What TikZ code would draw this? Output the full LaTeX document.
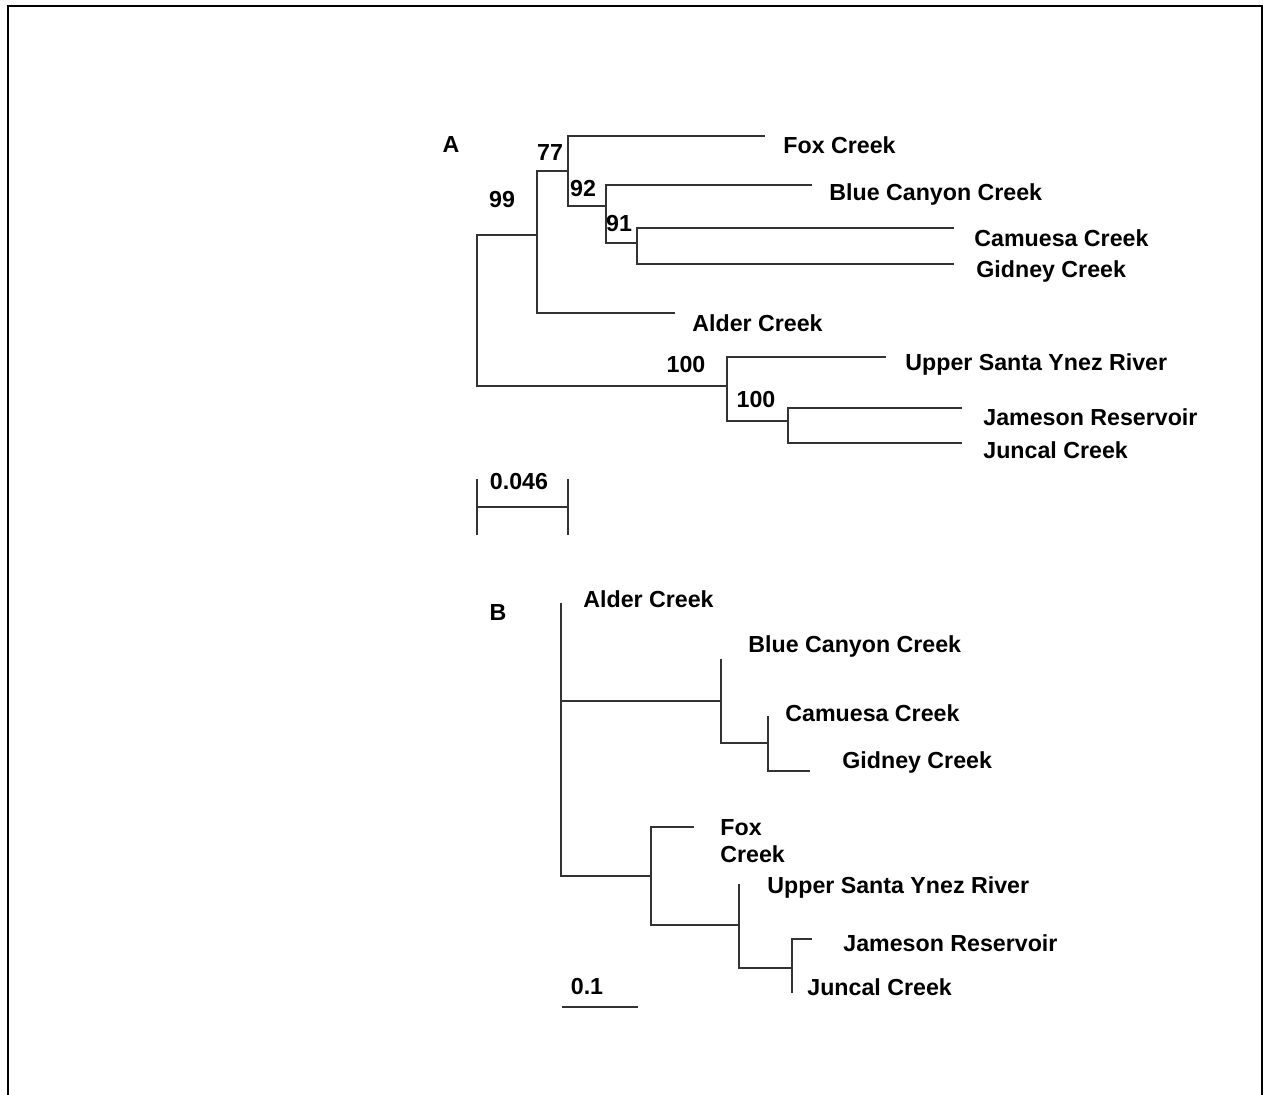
\documentclass[tikz,border=0pt]{standalone}
\usepackage{fontspec}
\setmainfont{Liberation Sans}
\begin{document}
\begin{tikzpicture}[x=0.5pt,y=-0.5pt,
  lbl/.style={anchor=west,inner sep=0pt,font=\fontsize{11.6pt}{13.5pt}\selectfont\bfseries},
  num/.style={inner sep=0pt,font=\fontsize{11.6pt}{13.5pt}\selectfont\bfseries},
  br/.style={line width=1pt,draw=black!80},
  frame/.style={line width=1.4pt}]
\useasboundingbox (0,0) rectangle (1264,1095);
% frame
\draw[frame] (8,1095) -- (8,6) -- (1262,6) -- (1262,1095);

% ---------- Tree A ----------
\node[num] (labA) at (451,145) {A};
\coordinate (Ar) at (477,310);
\coordinate (A1) at (537,235);
\coordinate (A2) at (568,171);
\coordinate (A3) at (606,206);
\coordinate (A4) at (637,243);
\coordinate (A5) at (727,386);
\coordinate (A6) at (788,421);
\coordinate (tFoxA) at (765,136);
\coordinate (tBlueA) at (812,185);
\coordinate (tCamA) at (954,228);
\coordinate (tGidA) at (954,264);
\coordinate (tAldA) at (675,313);
\coordinate (tUppA) at (886,357);
\coordinate (tJamA) at (962,408);
\coordinate (tJunA) at (962,443);
\draw[br] (Ar) |- (A1);
\draw[br] (Ar) |- (A5);
\draw[br] (A1) |- (A2);
\draw[br] (A1) |- (tAldA);
\draw[br] (A2) |- (tFoxA);
\draw[br] (A2) |- (A3);
\draw[br] (A3) |- (tBlueA);
\draw[br] (A3) |- (A4);
\draw[br] (A4) |- (tCamA);
\draw[br] (A4) |- (tGidA);
\draw[br] (A5) |- (tUppA);
\draw[br] (A5) |- (A6);
\draw[br] (A6) |- (tJamA);
\draw[br] (A6) |- (tJunA);
\node[lbl] (lFoxA) at (783,145) {Fox Creek};
\node[lbl] (lBlueA) at (829,195) {Blue Canyon Creek};
\node[lbl] (lCamA) at (974,238) {Camuesa Creek};
\node[lbl] (lGidA) at (976,272) {Gidney Creek};
\node[lbl] (lAldA) at (692,323) {Alder Creek};
\node[lbl] (lUppA) at (905,365) {Upper Santa Ynez River};
\node[lbl] (lJamA) at (983,417) {Jameson Reservoir};
\node[lbl] (lJunA) at (983,450) {Juncal Creek};
\node[num] (b77) at (550,153) {77};
\node[num] (b99) at (502,200) {99};
\node[num] (b92) at (583,189) {92};
\node[num] (b91) at (619,224) {91};
\node[num] (b100a) at (686,365) {100};
\node[num] (b100b) at (756,400) {100};
% scale A
\node[num] (sA) at (519,482) {0.046};
\coordinate (sA1) at (477,507);
\coordinate (sA2) at (568,507);
\draw[br] (sA1) -- (sA2);
\draw[br] ([yshift=-14]sA1) -- ([yshift=14]sA1);
\draw[br] ([yshift=-14]sA2) -- ([yshift=14]sA2);

% ---------- Tree B ----------
\node[num] (labB) at (498,613) {B};
\coordinate (Br) at (561,701);
\coordinate (B1) at (721,701);
\coordinate (B2) at (768,743);
\coordinate (B5) at (651,876);
\coordinate (B6) at (739,925);
\coordinate (B7) at (792,968);
\coordinate (tAldB) at (561,603);
\coordinate (tBlueB) at (721,659);
\coordinate (tCamB) at (768,716);
\coordinate (tGidB) at (810,771);
\coordinate (tFoxB) at (694,827);
\coordinate (tUppB) at (739,884);
\coordinate (tJamB) at (812,939);
\coordinate (tJunB) at (792,993);
\draw[br] (Br) -- (tAldB);
\draw[br] (Br) -- (B1);
\draw[br] (Br) |- (B5);
\draw[br] (B1) -- (tBlueB);
\draw[br] (B1) |- (B2);
\draw[br] (B2) -- (tCamB);
\draw[br] (B2) |- (tGidB);
\draw[br] (B5) |- (tFoxB);
\draw[br] (B5) |- (B6);
\draw[br] (B6) -- (tUppB);
\draw[br] (B6) |- (B7);
\draw[br] (B7) |- (tJamB);
\draw[br] (B7) -- (tJunB);
\node[lbl] (lAldB) at (583,599) {Alder Creek};
\node[lbl] (lBlueB) at (748,647) {Blue Canyon Creek};
\node[lbl] (lCamB) at (785,713) {Camuesa Creek};
\node[lbl] (lGidB) at (842,763) {Gidney Creek};
\node[lbl,align=left] (lFoxB) at (720,841) {Fox\\Creek};
\node[lbl] (lUppB) at (767,888) {Upper Santa Ynez River};
\node[lbl] (lJamB) at (843,943) {Jameson Reservoir};
\node[lbl] (lJunB) at (807,987) {Juncal Creek};
% scale B
\node[num] (sB) at (587,987) {0.1};
\coordinate (sB1) at (562,1007);
\coordinate (sB2) at (638,1007);
\draw[br] (sB1) -- (sB2);
\end{tikzpicture}
\end{document}
